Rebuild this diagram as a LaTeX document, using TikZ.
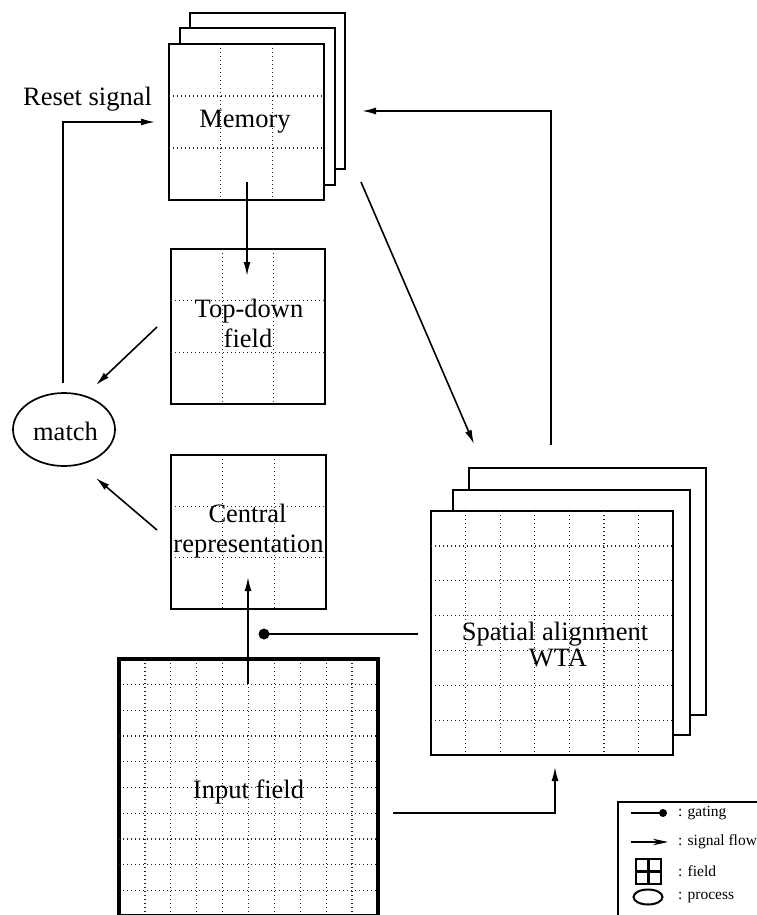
\documentclass[tikz,border=0pt]{standalone}
\usepackage{fontspec}
\setmainfont{Liberation Serif}
\usetikzlibrary{arrows.meta,shapes.geometric}
\newcommand\fieldgrid[5]{%
  \pgfmathtruncatemacro\nmone{#5-1}%
  \foreach \k in {1,...,\nmone}{%
    \draw[gridline] ({#1+(#3-#1)*\k/#5},#2) -- ({#1+(#3-#1)*\k/#5},#4);
    \draw[gridline] (#1,{#2+(#4-#2)*\k/#5}) -- (#3,{#2+(#4-#2)*\k/#5});
  }%
}
\begin{document}
\begin{tikzpicture}[x=1pt,y=-1pt,
  fieldbox/.style={draw, line width=2pt, fill=white, inner sep=0pt, outer sep=0pt},
  gridline/.style={line width=1.3pt, dash pattern=on 1.4pt off 2.6pt, black!85},
  arr/.style={line width=1.6pt, -{Latex[length=14pt,width=7pt]}},
  conn/.style={line width=1.6pt},
  lbl/.style={font=\fontsize{26.5}{30}\selectfont, inner sep=0pt, anchor=base},
  leg/.style={font=\fontsize{15.5}{17}\selectfont, inner sep=0pt, anchor=west},
]
\useasboundingbox (0,0) rectangle (757,915);

% Memory stack
\draw[fieldbox] (190,13) rectangle (345,169);
\draw[fieldbox] (179.5,28.5) rectangle (334.5,184.5);
\node[fieldbox, minimum width=155pt, minimum height=156pt] (mem) at (246.5,122) {};
\fieldgrid{169}{44}{324}{200}{3}
\node[lbl] (memt) at (245,128) {Memory};

% Top-down field
\node[fieldbox, minimum width=154pt, minimum height=155pt] (td) at (248,326.5) {};
\fieldgrid{171}{249}{325}{404}{3}
\node[lbl] (tdt1) at (249,317) {Top-down};
\node[lbl] (tdt2) at (248,347) {field};

% Central representation
\node[fieldbox, minimum width=155pt, minimum height=154pt] (cen) at (248.5,532) {};
\fieldgrid{171}{455}{326}{609}{3}
\node[lbl] (cent1) at (247.5,522) {Central};
\node[lbl] (cent2) at (248.5,552) {representation};

% Input field
\node[fieldbox, line width=3.8pt, minimum width=259pt, minimum height=257pt] (inp) at (248.5,787.5) {};
\fieldgrid{119}{659}{378}{916}{10}
\node[lbl] (inpt) at (248.5,798) {Input field};

% Spatial alignment stack
\draw[fieldbox] (469,468) rectangle (706,715);
\draw[fieldbox] (453,490) rectangle (690,735);
\node[fieldbox, minimum width=242pt, minimum height=244pt] (spa) at (552,633) {};
\fieldgrid{431}{511}{673}{755}{7}
\node[lbl] (spat1) at (555,640) {Spatial alignment};
\node[lbl] (spat2) at (558,666) {WTA};

% match
\node[draw, ellipse, line width=1.7pt, minimum width=102pt, minimum height=73pt, inner sep=0pt] (match) at (64,429.5) {};
\node[lbl] (matcht) at (65.5,440) {match};

% Reset signal
\node[lbl] (reset) at (87.5,106) {Reset signal};

% coordinates for connector ends
\coordinate (memout) at (247,182);
\coordinate (tdin) at (247,276);
\coordinate (memdiag) at (361,182);
\coordinate (spain) at (474,444);
\coordinate (spaout) at (551,445);
\coordinate (memin) at (362,111);
\coordinate (inpout) at (393,813);
\coordinate (spain2) at (555,767);
\coordinate (inpup) at (248,684);
\coordinate (cenin) at (248,577);
\coordinate (gatefrom) at (418,634);
\coordinate (gateto) at (264,634);
\coordinate (tdout) at (157,327);
\coordinate (matchin1) at (96,385);
\coordinate (cenout) at (157,530);
\coordinate (matchin2) at (96,478);
\coordinate (matchout) at (63,383);
\coordinate (resetin) at (155,122);

% connectors
\draw[arr] (memout) -- (tdin);
\draw[arr] (memdiag) -- (spain);
\draw[arr] (spaout) |- (memin);
\draw[arr] (inpout) -| (spain2);
\draw[arr] (inpup) -- (cenin);
\draw[conn] (gatefrom) -- (gateto);
\fill (gateto) circle (5.5pt);
\draw[arr] (tdout) -- (matchin1);
\draw[arr] (cenout) -- (matchin2);
\draw[arr] (matchout) |- (resetin);

% Legend
\draw[line width=1.2pt] (618,802) rectangle (775,935);
\coordinate (lg1a) at (631,813);
\coordinate (lg1b) at (663,813);
\draw[line width=1.4pt] (lg1a) -- (lg1b);
\fill (lg1b) circle (4pt);
\node[leg] (lgt1) at (678,813) {: gating};
\coordinate (lg2a) at (631,842);
\coordinate (lg2b) at (668,842);
\draw[line width=1.4pt, -{Stealth[length=15pt,width=6.5pt]}] (lg2a) -- (lg2b);
\node[leg] (lgt2) at (678,842) {: signal flow};
\draw[line width=2.2pt] (636,859) rectangle (661,884);
\draw[line width=2.2pt] (648.5,859) -- (648.5,884) (636,871.5) -- (661,871.5);
\node[leg] (lgt3) at (678,871) {: field};
\node[draw, ellipse, line width=2pt, minimum width=29pt, minimum height=15pt, inner sep=0pt] (lgell) at (648,897) {};
\node[leg] (lgt4) at (678,897) {: process};
\end{tikzpicture}
\end{document}
